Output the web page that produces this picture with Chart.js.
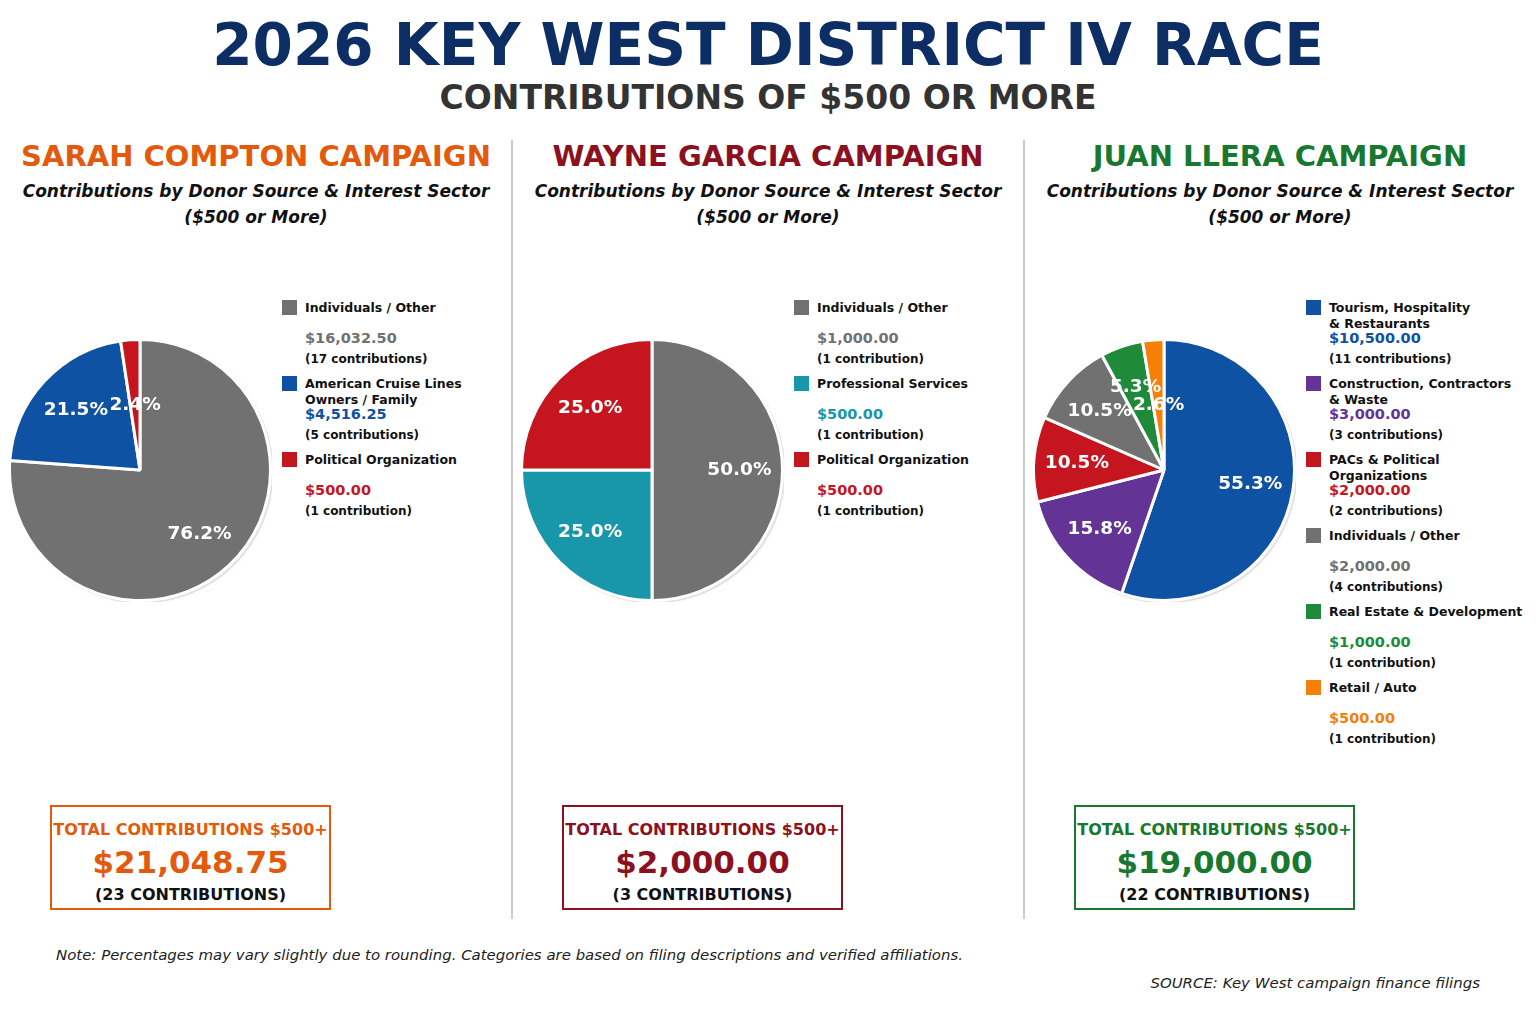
<!DOCTYPE html>
<html>
<head>
<meta charset="utf-8">
<script src="https://cdn.jsdelivr.net/npm/chart.js@4"></script>
<style>
  html, body { margin:0; padding:0; background:#fff; }
  body { width:1536px; height:1024px; position:relative; overflow:hidden; font-family:"DejaVu Sans", sans-serif; }
  .abs { position:absolute; }
  .ctr { text-align:center; white-space:nowrap; }
  #title { left:0; width:1536px; top:12px; font-size:58px; font-weight:bold; color:#0c2e65; line-height:66px; }
  #subtitle { left:0; width:1536px; top:78px; font-size:33px; font-weight:bold; color:#333; line-height:40px; }
  .divider { width:2px; background:#cccccc; top:140px; height:779px; }
  .ptitle { width:512px; top:137px; font-size:29px; font-weight:bold; line-height:38px; }
  .psub { width:512px; font-size:17px; font-weight:bold; font-style:italic; color:#111; line-height:26px; }
  .sq { width:15px; height:15px; }
  .lname { font-size:12.5px; font-weight:bold; color:#111; line-height:16px; white-space:nowrap; }
  .lval { font-size:14.5px; font-weight:bold; line-height:18px; white-space:nowrap; }
  .lcnt { font-size:12px; font-weight:bold; color:#111; line-height:16px; white-space:nowrap; }
  .box { width:277px; height:101px; border:2.5px solid; top:805px; background:#fff; }
  .btxt { left:0; width:277px; text-align:center; white-space:nowrap; font-weight:bold; }
  #note { left:56px; top:945px; font-size:14.95px; font-style:italic; color:#222; white-space:nowrap; line-height:20px; }
  #source { right:56px; top:973px; font-size:14.95px; font-style:italic; color:#222; white-space:nowrap; line-height:20px; }
</style>
</head>
<body>
<div id="title" class="abs ctr">2026 KEY WEST DISTRICT IV RACE</div>
<div id="subtitle" class="abs ctr">CONTRIBUTIONS OF $500 OR MORE</div>
<div class="abs divider" style="left:511px"></div>
<div class="abs divider" style="left:1023px"></div>
<div id="root"></div>
<div id="note" class="abs">Note: Percentages may vary slightly due to rounding. Categories are based on filing descriptions and verified affiliations.</div>
<div id="source" class="abs">SOURCE: Key West campaign finance filings</div>
<script>
// ---------- DATA ----------
const campaignNames = ["SARAH COMPTON CAMPAIGN", "WAYNE GARCIA CAMPAIGN", "JUAN LLERA CAMPAIGN"];
const campaignColors = ["#e35a0c", "#8b1020", "#18782f"];
const panelSubtitle = ["Contributions by Donor Source & Interest Sector", "($500 or More)"];

const comptonCategories = [["Individuals / Other"], ["American Cruise Lines", "Owners / Family"], ["Political Organization"]];
const comptonValues = [16032.50, 4516.25, 500.00];
const comptonCounts = [17, 5, 1];
const comptonColors = ["#717171", "#0f51a2", "#c5161f"];

const garciaCategories = [["Individuals / Other"], ["Professional Services"], ["Political Organization"]];
const garciaValues = [1000.00, 500.00, 500.00];
const garciaCounts = [1, 1, 1];
const garciaColors = ["#717171", "#1896aa", "#c5161f"];

const lleraCategories = [["Tourism, Hospitality", "& Restaurants"], ["Construction, Contractors", "& Waste"], ["PACs & Political", "Organizations"], ["Individuals / Other"], ["Real Estate & Development"], ["Retail / Auto"]];
const lleraValues = [10500.00, 3000.00, 2000.00, 2000.00, 1000.00, 500.00];
const lleraCounts = [11, 3, 2, 4, 1, 1];
const lleraColors = ["#0f51a2", "#633395", "#c5161f", "#717171", "#208a3b", "#f57f07"];

const totalLabel = "TOTAL CONTRIBUTIONS $500+";
const totalCounts = [23, 3, 22];

// ---------- HELPERS ----------
const fmt = v => "$" + v.toLocaleString("en-US", {minimumFractionDigits:2, maximumFractionDigits:2});
const root = document.getElementById("root");
function el(tag, cls, style, text) {
  const e = document.createElement(tag);
  if (cls) e.className = cls;
  if (style) e.style.cssText = style;
  if (text !== undefined) e.textContent = text;
  return e;
}

const pctLabelPlugin = {
  id: "pctLabels",
  beforeDatasetsDraw(chart) {
    const meta = chart.getDatasetMeta(0);
    if (!meta.data.length) return;
    const a = meta.data[0];
    const ctx = chart.ctx;
    ctx.save();
    ctx.beginPath();
    ctx.arc(a.x + 2, a.y + 2, a.outerRadius + 1, 0, Math.PI * 2);
    ctx.shadowColor = "rgba(0,0,0,0.25)";
    ctx.shadowBlur = 6;
    ctx.fillStyle = "rgba(0,0,0,0.10)";
    ctx.fill();
    ctx.restore();
  },
  afterDatasetsDraw(chart) {
    const ds = chart.data.datasets[0];
    const total = ds.data.reduce((s, v) => s + v, 0);
    const meta = chart.getDatasetMeta(0);
    const ctx = chart.ctx;
    ctx.save();
    ctx.fillStyle = "#ffffff";
    ctx.font = "bold 18.5px 'DejaVu Sans'";
    ctx.textAlign = "center";
    ctx.textBaseline = "middle";
    meta.data.forEach((arc, i) => {
      const pct = ds.data[i] / total * 100;
      const mid = (arc.startAngle + arc.endAngle) / 2;
      const f = pct < 3 ? 0.5 : 0.67;
      const r = arc.outerRadius * f;
      ctx.fillText(pct.toFixed(1) + "%", arc.x + Math.cos(mid) * r, arc.y + Math.sin(mid) * r);
    });
    ctx.restore();
  }
};

function buildPanel(idx, cats, vals, counts, colors) {
  const left = idx * 512;
  const color = campaignColors[idx];
  root.appendChild(el("div", "abs ctr ptitle", `left:${left}px;color:${color}`, campaignNames[idx]));
  root.appendChild(el("div", "abs ctr psub", `left:${left}px;top:178px`, panelSubtitle[0]));
  root.appendChild(el("div", "abs ctr psub", `left:${left}px;top:204px`, panelSubtitle[1]));

  // pie canvas
  const size = 264;
  const wrap = el("div", "abs", `left:${left + 140 - size/2}px;top:${470 - size/2}px;width:${size}px;height:${size}px`);
  const cv = document.createElement("canvas");
  wrap.appendChild(cv);
  root.appendChild(wrap);
  new Chart(cv, {
    type: "pie",
    data: {
      labels: cats.map(c => c.join(" ")),
      datasets: [{ data: vals, backgroundColor: colors, borderColor: "#ffffff", borderWidth: 3, hoverOffset: 0 }]
    },
    options: {
      responsive: true, maintainAspectRatio: false, animation: false,
      events: [],
      layout: { padding: 0 },
      plugins: { legend: { display: false }, tooltip: { enabled: false } }
    },
    plugins: [pctLabelPlugin]
  });

  // legend
  cats.forEach((c, i) => {
    const top = 300 + i * 76;
    root.appendChild(el("div", "abs sq", `left:${left + 282}px;top:${top}px;background:${colors[i]}`));
    const nm = el("div", "abs lname", `left:${left + 305}px;top:${top}px`);
    nm.innerHTML = c.map(s => s.replace(/&/g, "&amp;")).join("<br>");
    root.appendChild(nm);
    root.appendChild(el("div", "abs lval", `left:${left + 305}px;top:${top + 29}px;color:${colors[i]}`, fmt(vals[i])));
    root.appendChild(el("div", "abs lcnt", `left:${left + 305}px;top:${top + 51}px`,
      "(" + counts[i] + (counts[i] === 1 ? " contribution)" : " contributions)")));
  });

  // total box
  const total = vals.reduce((s, v) => s + v, 0);
  const box = el("div", "abs box", `left:${left + 50}px;border-color:${color}`);
  box.appendChild(el("div", "abs btxt", `top:13px;font-size:16px;line-height:20px;color:${color}`, totalLabel));
  box.appendChild(el("div", "abs btxt", `top:36px;font-size:31px;line-height:38px;color:${color}`, fmt(total)));
  box.appendChild(el("div", "abs btxt", `top:78px;font-size:16px;line-height:20px;color:#111`, "(" + totalCounts[idx] + " CONTRIBUTIONS)"));
  root.appendChild(box);
}

buildPanel(0, comptonCategories, comptonValues, comptonCounts, comptonColors);
buildPanel(1, garciaCategories, garciaValues, garciaCounts, garciaColors);
buildPanel(2, lleraCategories, lleraValues, lleraCounts, lleraColors);
</script>
</body>
</html>
